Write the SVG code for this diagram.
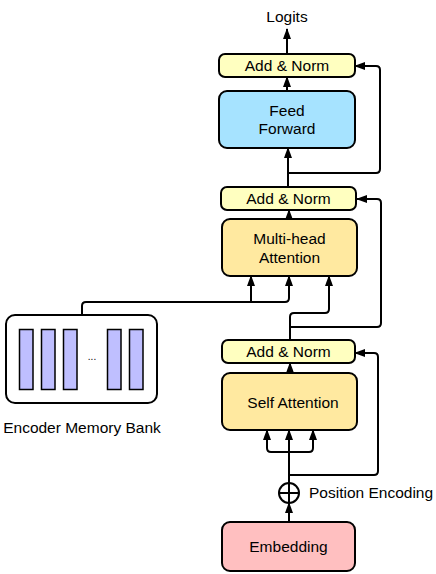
<svg xmlns="http://www.w3.org/2000/svg" width="436" height="574" viewBox="0 0 436 574">
<style>
text{font-family:"Liberation Sans",Arial,Helvetica,sans-serif;font-size:15.5px;fill:#000}
.box{stroke:#000;stroke-width:2}
.an{fill:#ffffc0}
.att{fill:#ffe9a0}
.ff{fill:#a6e3ff}
.emb{fill:#ffbfc0}
.bar{fill:#bfbfff;stroke:#000;stroke-width:1.5}
.c{fill:none;stroke:#000;stroke-width:2}
</style>
<defs>
<marker id="ah" markerUnits="userSpaceOnUse" markerWidth="12" markerHeight="12" viewBox="0 0 12 12" refX="10" refY="6" orient="auto">
<path d="M0,2 L11,6 L0,10 Z" fill="#000"/>
</marker>
</defs>
<g id="connectors">
<path class="c" d="M287,54 V29" marker-end="url(#ah)"/>
<path class="c" d="M287,91 V77" marker-end="url(#ah)"/>
<path class="c" d="M288,187 V148" marker-end="url(#ah)"/>
<path class="c" d="M288,173 H376 Q380,173 380,169 V70 Q380,66 376,66 H355" marker-end="url(#ah)"/>
<path class="c" d="M289,219 V210" marker-end="url(#ah)"/>
<path class="c" d="M82,315 V306 Q82,302 86,302 H285 Q289,302 289,298 V276" marker-end="url(#ah)"/>
<path class="c" d="M251,302 V276" marker-end="url(#ah)"/>
<path class="c" d="M290,340 V317 Q290,313 294,313 H325 Q329,313 329,309 V276" marker-end="url(#ah)"/>
<path class="c" d="M290,327 H377 Q381,327 381,323 V203 Q381,199 377,199 H357" marker-end="url(#ah)"/>
<path class="c" d="M290,373 V363" marker-end="url(#ah)"/>
<path class="c" d="M289,483 V430" marker-end="url(#ah)"/>
<path class="c" d="M289,452 H271 Q267,452 267,448 V430" marker-end="url(#ah)"/>
<path class="c" d="M289,452 H309 Q313,452 313,448 V430" marker-end="url(#ah)"/>
<path class="c" d="M289,475 H374 Q378,475 378,471 V357 Q378,353 374,353 H355" marker-end="url(#ah)"/>
<path class="c" d="M289,522 V503" marker-end="url(#ah)"/>
</g>
<g id="logits"><text x="287" y="22" text-anchor="middle">Logits</text></g>
<g id="addnorm1"><rect class="box an" x="219" y="54" width="136" height="23" rx="6"/><text x="287" y="71" text-anchor="middle">Add &amp; Norm</text></g>
<g id="feedforward"><rect class="box ff" x="219" y="91" width="136" height="57" rx="8"/><text x="287" y="116" text-anchor="middle">Feed</text><text x="287" y="134" text-anchor="middle">Forward</text></g>
<g id="addnorm2"><rect class="box an" x="221" y="187" width="135" height="23" rx="6"/><text x="288.5" y="204" text-anchor="middle">Add &amp; Norm</text></g>
<g id="multihead"><rect class="box att" x="222" y="219" width="135" height="57" rx="8"/><text x="289.5" y="244" text-anchor="middle">Multi-head</text><text x="289.5" y="263" text-anchor="middle">Attention</text></g>
<g id="encoder"><rect class="box" fill="#fff" x="6" y="315" width="151" height="88" rx="9"/>
<rect class="bar" x="19.5" y="329.5" width="13.5" height="60"/>
<rect class="bar" x="41.5" y="329.5" width="13.5" height="60"/>
<rect class="bar" x="63.5" y="329.5" width="13.5" height="60"/>
<rect class="bar" x="107.5" y="329.5" width="13.5" height="60"/>
<rect class="bar" x="129.5" y="329.5" width="13.5" height="60"/>
<text x="92" y="360" text-anchor="middle" style="font-size:10px">...</text>
<text x="82" y="433" text-anchor="middle">Encoder Memory Bank</text></g>
<g id="addnorm3"><rect class="box an" x="222" y="340" width="133" height="23" rx="6"/><text x="288.5" y="357" text-anchor="middle">Add &amp; Norm</text></g>
<g id="selfattention"><rect class="box att" x="222" y="373" width="135" height="57" rx="8"/><text x="293" y="408" text-anchor="middle">Self Attention</text></g>
<g id="posenc"><circle cx="289" cy="493" r="10" fill="#fff" stroke="#000" stroke-width="2"/><path d="M279,493 H299 M289,483 V503" stroke="#000" stroke-width="2"/><text x="309" y="498">Position Encoding</text></g>
<g id="embedding"><rect class="box emb" x="222" y="522" width="133" height="49" rx="8"/><text x="288.5" y="552" text-anchor="middle">Embedding</text></g>
</svg>
